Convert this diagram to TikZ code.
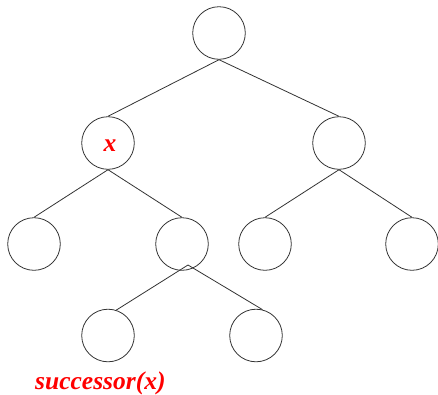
\documentclass[tikz,border=0pt]{standalone}
\usepackage{fontspec}
\setmainfont{Liberation Serif}
\usetikzlibrary{calc}
\begin{document}
\begin{tikzpicture}[x=1pt,y=-1pt,
  treenode/.style={circle,draw=black!80,line width=0.8pt,minimum size=52.6pt,inner sep=0pt},
  edge/.style={draw=black!80,line width=0.8pt},
  redlabel/.style={text=red,font=\fontsize{25.5}{28}\selectfont\bfseries\itshape,inner sep=0pt}]
  \useasboundingbox (0,0) rectangle (438,394);
  % tree nodes
  \node[treenode] (root) at (219,33) {};
  \node[treenode] (x)    at (108,143) {};
  \node[treenode] (r)    at (339,143) {};
  \node[treenode] (ll)   at (34,244) {};
  \node[treenode] (lr)   at (182,244) {};
  \node[treenode] (rl)   at (265,244) {};
  \node[treenode] (rr)   at (412,244) {};
  \node[treenode] (lrl)  at (108,335.5) {};
  \node[treenode] (lrr)  at (256,335.5) {};
  % labels
  \node[redlabel] (xlab) at (110,146) {x};
  \node[redlabel,anchor=base west] (succ) at (35,389.5) {successor(x)};
  % branching point below lr
  \coordinate (lrb) at ($(lr.center)+(6,21)$);
  % edges
  \draw[edge] (root.south) -- (x.north);
  \draw[edge] (root.south) -- (r.north);
  \draw[edge] (x.south) -- (ll.north);
  \draw[edge] (x.south) -- (lr.north);
  \draw[edge] (r.south) -- (rl.north);
  \draw[edge] (r.south) -- (rr.north);
  \draw[edge] (lrb) -- (lrl.72);
  \draw[edge] (lrb) -- (lrr.76);
\end{tikzpicture}
\end{document}
